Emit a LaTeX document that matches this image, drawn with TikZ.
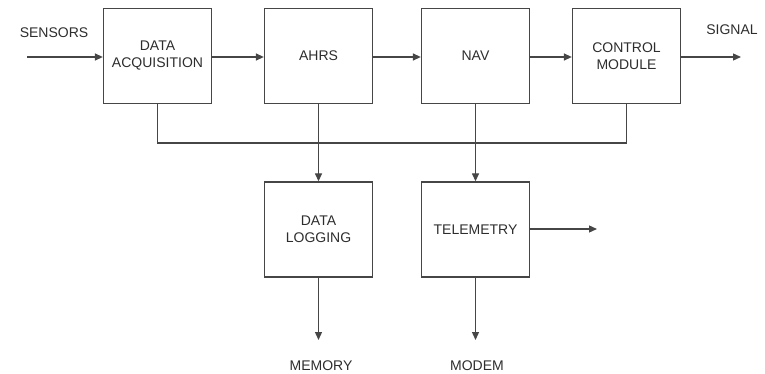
\documentclass[tikz,border=0pt]{standalone}
\usepackage{fontspec}
\setmainfont{Liberation Sans}
\definecolor{linegray}{RGB}{70, 70, 70}
\definecolor{textgray}{RGB}{45, 45, 45}
\usetikzlibrary{arrows.meta, positioning}
\tikzset{
  block/.style={rectangle, draw=linegray, line width=1.3pt, minimum width=108pt, minimum height=95pt, align=center, font=\fontsize{14}{17}\selectfont, text=textgray, inner sep=0pt},
  iolabel/.style={font=\fontsize{14}{17}\selectfont, text=textgray, inner sep=0pt},
  flow/.style={draw=linegray, line width=1.3pt, -{Triangle[length=8pt, width=7pt]}},
  bus/.style={draw=linegray, line width=1.3pt},
}

\begin{document}
\begin{tikzpicture}[x=1pt, y=-1pt]
\useasboundingbox (0,0) rectangle (765,374);
% top row
\node[block] (acq)  at (157.5,56) {DATA\\ACQUISITION};
\node[block] (ahrs) at (318.5,56) {AHRS};
\node[block] (nav)  at (475.5,56) {NAV};
\node[block] (ctrl) at (626.5,56) {CONTROL\\MODULE};
% bottom row
\node[block] (log)  at (318.5,229.5) {DATA\\LOGGING};
\node[block] (tele) at (475.5,229.5) {TELEMETRY};
% outside labels
\node[iolabel] (sensors) at (54,33)  {SENSORS};
\node[iolabel] (signal)  at (732,30) {SIGNAL};
\node[iolabel] (memory)  at (321,366) {MEMORY};
\node[iolabel] (modem)   at (477,366) {MODEM};
\coordinate (inS)   at (27,57);
\coordinate (outS)  at (741,57);
\coordinate (outT)  at (597,229);
\coordinate (outM)  at (318.5,340);
\coordinate (outD)  at (475.5,340);
\coordinate (busL)  at (157.5,143);
\coordinate (busR)  at (626.5,143);
% chain
\draw[flow] (inS) -- (acq.west |- inS);
\draw[flow] (acq.east |- inS) -- (ahrs.west |- inS);
\draw[flow] (ahrs.east |- inS) -- (nav.west |- inS);
\draw[flow] (nav.east |- inS) -- (ctrl.west |- inS);
\draw[flow] (ctrl.east |- inS) -- (outS);
% bus
\draw[bus] (acq.south) -- (busL) -- (busR) -- (ctrl.south);
\draw[flow] (ahrs.south) -- (log.north);
\draw[flow] (nav.south) -- (tele.north);
% outputs
\draw[flow] (tele.east |- outT) -- (outT);
\draw[flow] (log.south) -- (outM);
\draw[flow] (tele.south) -- (outD);
\end{tikzpicture}
\end{document}
